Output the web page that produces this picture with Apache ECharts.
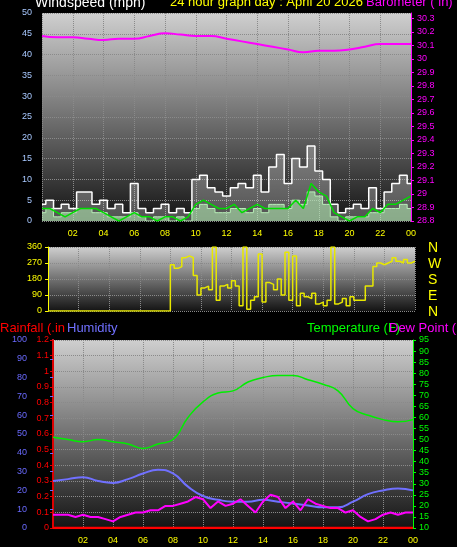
<!DOCTYPE html>
<html>
<head>
<meta charset="utf-8">
<script src="https://cdn.jsdelivr.net/npm/echarts@6/dist/echarts.min.js"></script>
<style>
html,body{margin:0;padding:0;background:#000;}
#main{width:457px;height:547px;}
</style>
</head>
<body>
<div id="main"></div>
<script>
// 时间轴 (小时)
var hourTimes = [0,1,2,3,4,5,6,7,8,9,10,11,12,13,14,15,16,17,18,19,20,21,22,23,24];
var halfTimes = [0,0.5,1,1.5,2,2.5,3,3.5,4,4.5,5,5.5,6,6.5,7,7.5,8,8.5,9,9.5,10,10.5,11,11.5,12,12.5,13,13.5,14,14.5,15,15.5,16,16.5,17,17.5,18,18.5,19,19.5,20,20.5,21,21.5,22,22.5,23,23.5,24];
var quarterTimes = [];
for (var q = 0; q <= 96; q++) quarterTimes.push(q / 4);

// 风速
var windGust = [4,5,3,4,3,7,7,4,5,3,4,2,9,3,2,3,4,2,3,2,10,11,8,7,6,8,9,8,11,7,13,16,9,15,13,18,12,10,4,2,3,4,3,8,3,7,9,11,9];
var windAvg  = [2,3,1,2,2,3,3,2,2,1,1,1,2,1,0,1,1,0,1,0,3,4,3,2,2,3,3,2,3,2,4,4,3,5,4,7,6,4,1,0,1,1,1,2,2,3,3,4,3];
var windLine = [3,3,2,1,2,3,3,3,2,1,0,1,2,1,1,0,1,1,0,1,4,5,4,3,3,4,2,3,4,3,3,3,3,5,3,9,7,6,2,1,0,1,1,3,2,4,4,5,6];
// 气压
var baro = [30.17,30.16,30.16,30.15,30.14,30.15,30.15,30.17,30.19,30.18,30.17,30.17,30.15,30.13,30.11,30.09,30.07,30.05,30.06,30.06,30.07,30.09,30.11,30.11,30.11];
// 风向
var windDir = [0,0,0,0,0,0,0,0,0,0,0,0,0,0,0,0,0,0,0,0,0,0,0,0,0,0,0,0,0,0,0,0,
  260,240,250,300,310,300,200,90,130,140,120,360,60,140,150,130,170,140,30,360,10,60,80,320,50,160,150,120,180,90,330,60,
  310,30,100,80,70,100,40,50,30,60,360,40,50,70,30,80,60,60,60,140,140,250,270,260,270,280,300,280,270,290,270,280,280];
// 温度/湿度/露点
var temp = [51,50,49,50,49,48,46,48,50,60,67,71,72,76,78,79,79,77,75,72,64,61,59,58,59];
var humidity = [25,26,27,25,24,26,29,31,29,22,17,15,14,14,15,14,13,12,11,11,14,18,20,21,20];
var dewPoint = [16,16,16,15,16,15,15,14,13,15,16,17,17,18,18,20,20,21,22,24,23,19,22,20,21,23,20,17,22,25,24,19,22,18,23,21,20,19,19,17,18,15,13,14,16,17,16,17,17];
var rainfall = [0,0,0,0,0,0,0,0,0,0,0,0,0,0,0,0,0,0,0,0,0,0,0,0,0];

function zip(t, v) {
    var res = [];
    for (var i = 0; i < v.length; i++) res.push([t[i], v[i]]);
    return res;
}

var plotBg = new echarts.graphic.LinearGradient(0, 0, 0, 1, [
    {offset: 0, color: '#cfcfcf'}, {offset: 1, color: '#141414'}
]);
var gridLine = {show: true, lineStyle: {color: '#8a8a8a', type: 'dotted', width: 1}};
var font = 'Liberation Sans';

function xAxisFor(idx, show) {
    return {
        type: 'value', gridIndex: idx, min: 0, max: 24, interval: 2,
        axisLine: {show: false}, axisTick: {show: false}, splitLine: gridLine,
        axisLabel: {
            show: show, color: '#ffff00', fontSize: 9, fontFamily: font, margin: 8,
            formatter: function (v) { if (v === 0) return ''; v = v % 24; return (v < 10 ? '0' : '') + v; }
        }
    };
}

var myChart = echarts.init(document.getElementById('main'));
var option = {
    backgroundColor: '#000',
    animation: false,
    graphic: [
        {type: 'text', left: 35, top: -4, style: {text: 'Windspeed (mph)', fill: '#ffffff', font: '14px ' + font}},
        {type: 'text', left: 170, top: -4, style: {text: '24 hour graph day : April 20 2026', fill: '#ffff00', font: '13px ' + font}},
        {type: 'text', left: 366, top: -4, style: {text: 'Barometer ( in)', fill: '#ff00ff', font: '13px ' + font}},
        {type: 'text', left: 428, top: 240, style: {text: 'N\nW\nS\nE\nN', fill: '#ffff00', font: '14px ' + font, lineHeight: 16}},
        {type: 'text', left: 0, top: 322, style: {text: 'Rainfall (.in', fill: '#ff0000', font: '13px ' + font}},
        {type: 'text', left: 67, top: 322, style: {text: 'Humidity', fill: '#7070ff', font: '13px ' + font}},
        {type: 'text', left: 307, top: 322, style: {text: 'Temperature (F)', fill: '#00ff00', font: '13px ' + font}},
        {type: 'text', left: 389, top: 322, style: {text: 'Dew Point (', fill: '#ff00ff', font: '13px ' + font}}
    ],
    grid: [
        {left: 42, right: 46, top: 13, height: 208, show: true, backgroundColor: plotBg, borderWidth: 0},
        {left: 48, right: 42, top: 247, height: 64, show: true, backgroundColor: plotBg, borderWidth: 0},
        {left: 53, right: 44, top: 340, height: 188, show: true, backgroundColor: plotBg, borderWidth: 0}
    ],
    xAxis: [xAxisFor(0, true), xAxisFor(1, false), xAxisFor(2, true)],
    yAxis: [
        {type: 'value', gridIndex: 0, position: 'left', min: 0, max: 50, interval: 5, splitLine: gridLine,
            axisLine: {show: false}, axisTick: {show: false},
            axisLabel: {color: '#a8c8ff', fontSize: 9, fontFamily: font, margin: 10}},
        {type: 'value', gridIndex: 0, position: 'right', min: 28.8, max: 30.34, interval: 0.1, splitLine: {show: false},
            axisLine: {show: true, lineStyle: {color: '#ff00ff'}}, axisTick: {show: true, length: 3, lineStyle: {color: '#ff00ff'}},
            axisLabel: {color: '#ff00ff', fontSize: 9, fontFamily: font, margin: 6,
                formatter: function (v) { return (Math.round(v * 10) / 10).toString(); }}},
        {type: 'value', gridIndex: 1, position: 'left', min: 0, max: 360, interval: 90, splitLine: gridLine,
            axisLine: {show: true, lineStyle: {color: '#ffff00'}}, axisTick: {show: true, length: 3, lineStyle: {color: '#ffff00'}},
            axisLabel: {color: '#ffff00', fontSize: 9, fontFamily: font, margin: 6}},
        {type: 'value', gridIndex: 2, position: 'left', min: 0, max: 100, interval: 10, offset: 22, splitLine: {show: false},
            axisLine: {show: true, lineStyle: {color: '#6a6aff', width: 2}}, axisTick: {show: true, length: 3, lineStyle: {color: '#6a6aff'}},
            axisLabel: {color: '#6a6aff', fontSize: 9, fontFamily: font, margin: 4}},
        {type: 'value', gridIndex: 2, position: 'left', min: 0, max: 1.2, interval: 0.1, splitLine: gridLine,
            axisLine: {show: true, lineStyle: {color: '#dd0000', width: 2}}, axisTick: {show: true, length: 3, lineStyle: {color: '#dd0000'}},
            axisLabel: {color: '#ff0000', fontSize: 9, fontFamily: font, margin: 4,
                formatter: function (v) { return (Math.round(v * 10) / 10).toString(); }}},
        {type: 'value', gridIndex: 2, position: 'right', min: 10, max: 95, interval: 5, splitLine: {show: false},
            axisLine: {show: true, lineStyle: {color: '#00ff00'}}, axisTick: {show: true, length: 3, lineStyle: {color: '#00ff00'}},
            axisLabel: {color: '#00ff00', fontSize: 9, fontFamily: font, margin: 6}}
    ],
    series: [
        {name: 'Gust', type: 'line', xAxisIndex: 0, yAxisIndex: 0, step: 'middle', showSymbol: false,
            data: zip(halfTimes, windGust), lineStyle: {color: '#ffffff', width: 1.5},
            areaStyle: {color: 'rgba(240,240,240,0.4)'}},
        {name: 'Avg', type: 'line', xAxisIndex: 0, yAxisIndex: 0, step: 'middle', showSymbol: false,
            data: zip(halfTimes, windAvg), lineStyle: {color: '#b8f0b8', width: 1},
            areaStyle: {color: 'rgba(176,232,176,0.85)'}},
        {name: 'Wind', type: 'line', xAxisIndex: 0, yAxisIndex: 0, showSymbol: false,
            data: zip(halfTimes, windLine), lineStyle: {color: '#00dd00', width: 1.5}},
        {name: 'Barometer', type: 'line', xAxisIndex: 0, yAxisIndex: 1, showSymbol: false, smooth: true,
            data: zip(hourTimes, baro), lineStyle: {color: '#ff00ff', width: 2}},
        {name: 'Direction', type: 'line', xAxisIndex: 1, yAxisIndex: 2, step: 'end', showSymbol: false,
            data: zip(quarterTimes, windDir), lineStyle: {color: '#e8e800', width: 1.5}},
        {name: 'Temperature', type: 'line', xAxisIndex: 2, yAxisIndex: 5, showSymbol: false, smooth: true,
            data: zip(hourTimes, temp), lineStyle: {color: '#00ee00', width: 1.5}},
        {name: 'Humidity', type: 'line', xAxisIndex: 2, yAxisIndex: 3, showSymbol: false, smooth: true,
            data: zip(hourTimes, humidity), lineStyle: {color: '#7070ff', width: 2}},
        {name: 'Dew Point', type: 'line', xAxisIndex: 2, yAxisIndex: 5, showSymbol: false,
            data: zip(halfTimes, dewPoint), lineStyle: {color: '#ff00ff', width: 2}},
        {name: 'Rainfall', type: 'line', xAxisIndex: 2, yAxisIndex: 4, showSymbol: false,
            data: zip(hourTimes, rainfall), lineStyle: {color: '#ff0000', width: 2.5}}
    ]
};
myChart.setOption(option);
</script>
</body>
</html>
